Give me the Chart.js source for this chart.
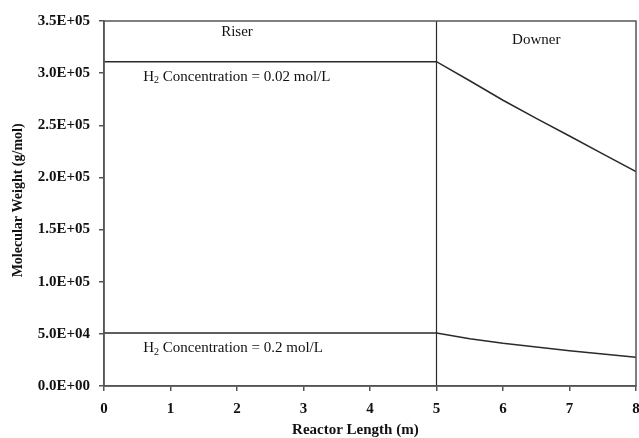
<!DOCTYPE html>
<html>
<head>
<meta charset="utf-8">
<script src="https://cdn.jsdelivr.net/npm/chart.js@4.4.1/dist/chart.umd.min.js"></script>
<style>
html,body{margin:0;padding:0;background:#fff;}
#wrap{width:639px;height:438px;position:relative;}
</style>
</head>
<body>
<div id="wrap"><canvas id="c"></canvas></div>
<script>
// Data
const reactorLength = [0, 5, 5.5, 6, 6.5, 7, 7.5, 8];
const mwH2_002 = [311000, 311000, 292700, 274000, 256700, 239700, 222500, 205500];
const mwH2_02  = [50800, 50800, 45400, 40900, 37400, 33900, 30700, 27500];
const sectionBoundary = 5;
const yTicks = [0, 50000, 100000, 150000, 200000, 250000, 300000, 350000];
const xTicks = [0, 1, 2, 3, 4, 5, 6, 7, 8];
const sectionLabels = ["Riser", "Downer"];
const seriesLabels = ["Concentration = 0.02 mol/L", "Concentration = 0.2 mol/L"];
const xTitle = "Reactor Length (m)";
const yTitle = "Molecular Weight (g/mol)";

const SERIF = '"Liberation Serif", "Times New Roman", serif';

function fmtSci(v){
  if (v === 0) return "0.0E+00";
  const s = v.toExponential(1).toUpperCase();
  const [m, e] = s.split("E");
  return m + "E" + e[0] + e.slice(1).padStart(2, "0");
}

const annot = {
  id: 'annot',
  afterDraw(chart){
    const {ctx, chartArea, scales:{x, y}} = chart;
    ctx.save();
    // frame
    ctx.strokeStyle = '#555';
    ctx.lineWidth = 1.5;
    ctx.strokeRect(chartArea.left, chartArea.top, chartArea.right - chartArea.left, chartArea.bottom - chartArea.top);
    ctx.fillStyle = '#111';
    ctx.textBaseline = 'middle';
    ctx.textAlign = 'center';
    ctx.font = '15px ' + SERIF;
    ctx.fillText(sectionLabels[0], x.getPixelForValue(2.0), chartArea.top + 11);
    ctx.fillText(sectionLabels[1], x.getPixelForValue(6.5), chartArea.top + 19);
    function h2(text, px, py){
      ctx.textAlign = 'left';
      ctx.font = '15px ' + SERIF;
      ctx.fillText('H', px, py);
      const w = ctx.measureText('H').width;
      ctx.font = '10px ' + SERIF;
      ctx.fillText('2', px + w, py + 4);
      const w2 = ctx.measureText('2').width;
      ctx.font = '15px ' + SERIF;
      ctx.fillText(' ' + text, px + w + w2, py);
    }
    const lx = x.getPixelForValue(0.59);
    h2(seriesLabels[0], lx, y.getPixelForValue(mwH2_002[0]) + 15);
    h2(seriesLabels[1], lx, y.getPixelForValue(mwH2_02[0]) + 15);
    // axis titles
    ctx.textAlign = 'center';
    ctx.font = 'bold 15px ' + SERIF;
    ctx.fillText(xTitle, x.getPixelForValue(3.78), chartArea.bottom + 44);
    ctx.translate(18, y.getPixelForValue(178000));
    ctx.rotate(-Math.PI / 2);
    ctx.font = 'bold 14px ' + SERIF;
    ctx.fillText(yTitle, 0, 0);
    ctx.restore();
  }
};

new Chart(document.getElementById('c'), {
  type: 'scatter',
  data: {
    datasets: [
      {
        data: reactorLength.map((v, i) => ({x: v, y: mwH2_002[i]})),
        showLine: true, borderColor: '#2a2a2a', borderWidth: 1.5, pointRadius: 0, tension: 0
      },
      {
        data: reactorLength.map((v, i) => ({x: v, y: mwH2_02[i]})),
        showLine: true, borderColor: '#2a2a2a', borderWidth: 1.5, pointRadius: 0, tension: 0
      },
      {
        data: [{x: sectionBoundary, y: yTicks[0]}, {x: sectionBoundary, y: yTicks[yTicks.length - 1]}],
        showLine: true, borderColor: '#2a2a2a', borderWidth: 1.2, pointRadius: 0
      }
    ]
  },
  options: {
    responsive: true,
    maintainAspectRatio: false,
    animation: false,
    events: [],
    layout: {padding: {top: 21, right: 3, left: 0, bottom: 0}},
    plugins: {legend: {display: false}, tooltip: {enabled: false}},
    scales: {
      x: {
        type: 'linear', min: xTicks[0], max: xTicks[xTicks.length - 1],
        afterBuildTicks: s => { s.ticks = xTicks.map(v => ({value: v})); },
        afterFit: s => { s.height = 52; s.paddingLeft = 0; s.paddingRight = 0; },
        border: {color: '#555', width: 1.5},
        grid: {drawOnChartArea: false, tickLength: 5, color: '#555', lineWidth: 1.5},
        ticks: {color: '#111', padding: 9, maxRotation: 0, font: {family: SERIF, size: 15, weight: 'bold'}}
      },
      y: {
        type: 'linear', min: yTicks[0], max: yTicks[yTicks.length - 1],
        afterBuildTicks: s => { s.ticks = yTicks.map(v => ({value: v})); },
        afterFit: s => { s.width = 104; s.paddingTop = 0; s.paddingBottom = 0; },
        border: {color: '#555', width: 1.5},
        grid: {drawOnChartArea: false, tickLength: 5, color: '#555', lineWidth: 1.5},
        ticks: {color: '#111', padding: 9, callback: v => fmtSci(v),
                font: {family: SERIF, size: 15, weight: 'bold'}}
      }
    }
  },
  plugins: [annot]
});
</script>
</body>
</html>
